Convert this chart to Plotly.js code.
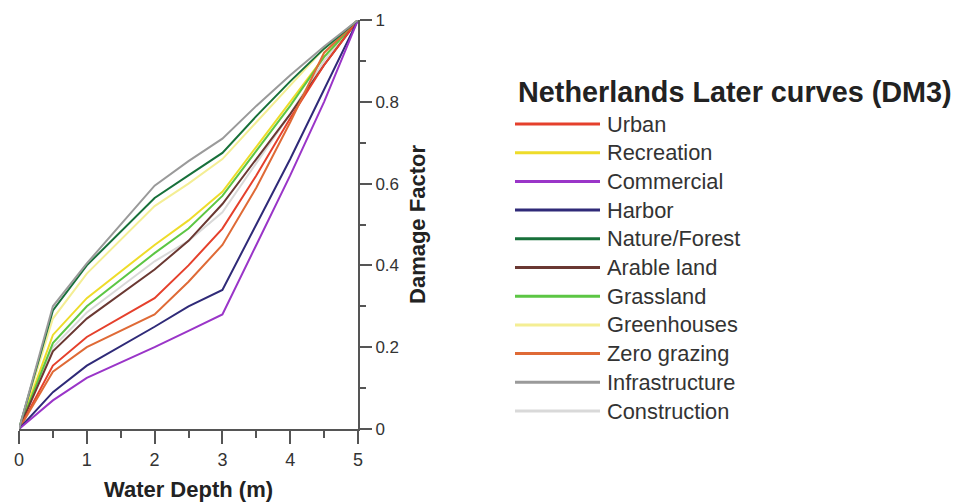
<!DOCTYPE html>
<html>
<head>
<meta charset="utf-8">
<script src="https://cdn.plot.ly/plotly-3.0.1.min.js"></script>
<style>html,body{margin:0;padding:0;background:#fff;}#chart{width:957px;height:504px;}</style>
</head>
<body>
<div id="chart"></div>
<script>
// ---- data ----
var depth = [0, 0.5, 1, 2, 2.5, 3, 3.5, 4, 4.5, 5];
var seriesNames = ["Urban","Recreation","Commercial","Harbor","Nature/Forest","Arable land","Grassland","Greenhouses","Zero grazing","Infrastructure","Construction"];
var urban          = [0, 0.155, 0.225, 0.32, 0.40, 0.49, 0.62, 0.76, 0.89, 1];
var recreation     = [0, 0.23, 0.32, 0.45, 0.51, 0.58, 0.69, 0.80, 0.91, 1];
var commercial     = [0, 0.07, 0.125, 0.20, 0.24, 0.28, 0.45, 0.62, 0.80, 1];
var harbor         = [0, 0.09, 0.155, 0.25, 0.30, 0.34, 0.50, 0.66, 0.83, 1];
var natureForest   = [0, 0.29, 0.40, 0.565, 0.62, 0.675, 0.765, 0.85, 0.93, 1];
var arableLand     = [0, 0.19, 0.27, 0.39, 0.46, 0.55, 0.66, 0.77, 0.89, 1];
var grassland      = [0, 0.21, 0.30, 0.43, 0.49, 0.57, 0.68, 0.79, 0.91, 1];
var greenhouses    = [0, 0.27, 0.38, 0.545, 0.60, 0.66, 0.75, 0.84, 0.93, 1];
var zeroGrazing    = [0, 0.14, 0.20, 0.28, 0.36, 0.45, 0.59, 0.75, 0.92, 1];
var infrastructure = [0, 0.30, 0.405, 0.595, 0.655, 0.71, 0.79, 0.865, 0.935, 1];
var construction   = [0, 0.20, 0.285, 0.41, 0.46, 0.53, 0.65, 0.77, 0.90, 1];
var seriesValues = [urban, recreation, commercial, harbor, natureForest, arableLand, grassland, greenhouses, zeroGrazing, infrastructure, construction];
var seriesColors = ["#e5402c","#eedc2a","#9a35c8","#2f2a78","#17703a","#6a3832","#5cc644","#f4ee94","#df6a36","#9a9a9a","#d9d9d9"];
var xTicks = [0,1,2,3,4,5];
var yTicks = [0,0.2,0.4,0.6,0.8,1];
var yTickText = ["0","0.2","0.4","0.6","0.8","1"];
var legendTitle = "Netherlands Later curves (DM3)";

// ---- drawing order: light lines under darker ones ----
var drawOrder = [10,7,1,6,5,0,8,3,2,4,9];
var traces = drawOrder.map(function(i){
  return {x: depth, y: seriesValues[i], name: seriesNames[i], type: 'scatter', mode: 'lines',
          line: {color: seriesColors[i], width: 2}, showlegend: false, hoverinfo: 'name+x+y'};
});

var W = 957, H = 504, ml = 19, mr = 0, mt = 20, mb = 75;
var pw = W - ml - mr, ph = H - mt - mb;
function px(xp){ return (xp - ml) / pw; }
function py(yp){ return 1 - (yp - mt) / ph; }

var shapes = [], annotations = [];
annotations.push({xref:'paper', yref:'paper', x: px(516), y: py(92), xanchor:'left', yanchor:'middle',
  text: '<b>' + legendTitle + '</b>', showarrow:false, font:{family:'Liberation Sans, Arial, sans-serif', size:28.8, color:'#222'}});
var rowTop = 124, rowStep = 28.7;
for (var k = 0; k < seriesNames.length; k++){
  var yy = rowTop + k*rowStep;
  shapes.push({type:'line', xref:'paper', yref:'paper', x0: px(515), x1: px(600), y0: py(yy), y1: py(yy),
    line:{color: seriesColors[k], width: 3}});
  annotations.push({xref:'paper', yref:'paper', x: px(605), y: py(yy), xanchor:'left', yanchor:'middle',
    text: seriesNames[k], showarrow:false, font:{family:'Liberation Sans, Arial, sans-serif', size:21.8, color:'#333'}});
}

var layout = {
  width: W, height: H,
  margin: {l: ml, r: mr, t: mt, b: mb, pad: 0},
  paper_bgcolor: '#fff', plot_bgcolor: '#fff',
  font: {family: 'Liberation Sans, Arial, sans-serif', color: '#333'},
  showlegend: false,
  xaxis: {
    domain: [0, 339/pw], range: [0, 5], showgrid: false, zeroline: false,
    showline: true, linecolor: '#555', linewidth: 2,
    ticks: 'outside', ticklen: 13, tickwidth: 2, tickcolor: '#555',
    tickvals: xTicks, ticktext: xTicks.map(String),
    tickfont: {size: 18, color: '#333'},
    minor: {dtick: 0.5, ticks: 'outside', ticklen: 7, tickwidth: 2, tickcolor: '#555', showgrid: false},
    title: {text: '<b>Water Depth (m)</b>', font: {size: 22, color: '#222'}, standoff: 13}
  },
  yaxis: {
    side: 'right', anchor: 'x', range: [0, 1], showgrid: false, zeroline: false,
    showline: true, linecolor: '#555', linewidth: 2,
    ticks: 'outside', ticklen: 12, tickwidth: 2, tickcolor: '#555',
    tickvals: yTicks, ticktext: yTickText,
    tickfont: {size: 17, color: '#333'},
    minor: {dtick: 0.1, ticks: 'outside', ticklen: 6, tickwidth: 2, tickcolor: '#555', showgrid: false},
    title: {text: '<b>Damage Factor</b>', font: {size: 22, color: '#222'}, standoff: 12}
  },
  shapes: shapes,
  annotations: annotations
};

Plotly.newPlot('chart', traces, layout, {displayModeBar: false, responsive: false});
</script>
</body>
</html>
